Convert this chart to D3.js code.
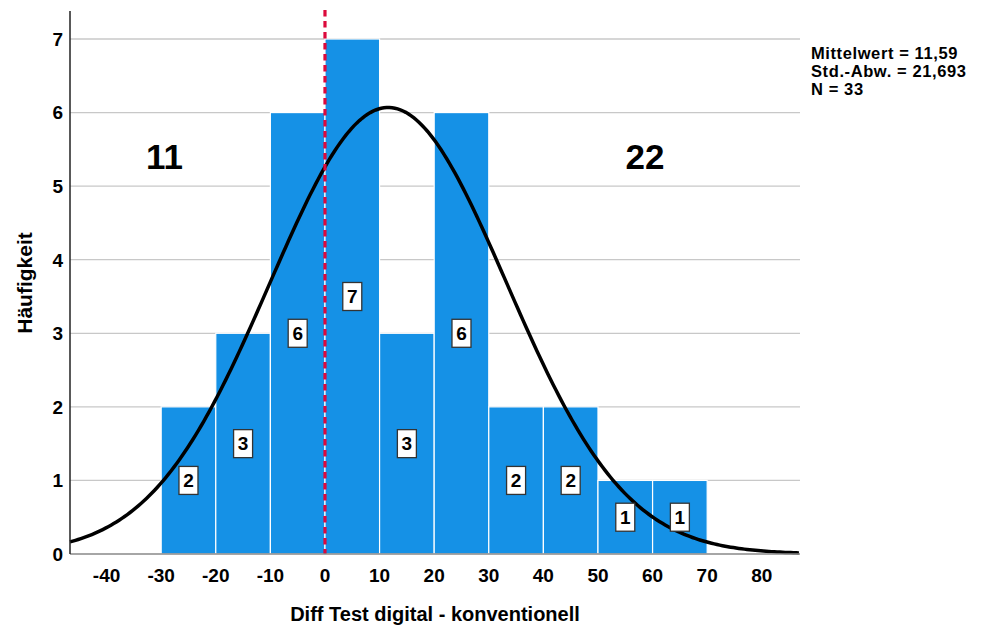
<!DOCTYPE html>
<html><head><meta charset="utf-8">
<script src="https://cdn.jsdelivr.net/npm/d3@7"></script>
<style>body{margin:0;background:#fff;}svg{display:block;font-family:Arial,"Liberation Sans",sans-serif;}</style>
</head><body>
<svg id="c" width="991" height="628"></svg>
<script>
const binStarts = [-30,-20,-10,0,10,20,30,40,50,60];
const binWidth = 10;
const counts = [2,3,6,7,3,6,2,2,1,1];
const xTicks = [-40,-30,-20,-10,0,10,20,30,40,50,60,70,80];
const yTicks = [0,1,2,3,4,5,6,7];
const meanVal = 11.59, sdVal = 21.693, nVal = 33;
const statsLines = ["Mittelwert = 11,59","Std.-Abw. = 21,693","N = 33"];
const sideCounts = [{x:-29.4,y:5.4,t:"11"},{x:58.6,y:5.4,t:"22"}];

const svg = d3.select("#c");
const x = d3.scaleLinear().domain([-46.7,87]).range([70,800]);
const y = d3.scaleLinear().domain([0,7]).range([554,39]);

// grid
svg.append("g").selectAll("line").data(yTicks.filter(d=>d>0)).join("line")
  .attr("x1",70).attr("x2",800).attr("y1",d=>y(d)).attr("y2",d=>y(d))
  .attr("stroke","#c8c8c8").attr("stroke-width",1.3);

// bars
svg.append("g").selectAll("rect").data(binStarts.map((s,i)=>({s,c:counts[i]}))).join("rect")
  .attr("x",d=>x(d.s)).attr("width",d=>x(d.s+binWidth)-x(d.s))
  .attr("y",d=>y(d.c)).attr("height",d=>y(0)-y(d.c))
  .attr("fill","#1591e6").attr("stroke","#ffffff").attr("stroke-width",1.2);

// normal curve
const pts = d3.range(-46.7,87.01,0.5).map(v=>[v, nVal*binWidth*Math.exp(-0.5*((v-meanVal)/sdVal)**2)/(sdVal*Math.sqrt(2*Math.PI))]);
svg.append("path").datum(pts)
  .attr("d",d3.line().x(d=>x(d[0])).y(d=>y(d[1])))
  .attr("fill","none").attr("stroke","#000").attr("stroke-width",3.5);

// red dashed line
svg.append("line").attr("x1",x(0)).attr("x2",x(0)).attr("y1",10).attr("y2",y(0))
  .attr("stroke","#dc0a3c").attr("stroke-width",3.2).attr("stroke-dasharray","6.5,4.5");

// labels in bars
const lg = svg.append("g").selectAll("g").data(binStarts.map((s,i)=>({s,c:counts[i]}))).join("g")
  .attr("transform",d=>`translate(${x(d.s+binWidth/2)},${y(d.c/2)})`);
lg.append("rect").attr("x",-9.5).attr("y",-14).attr("width",19).attr("height",28)
  .attr("fill","#fff").attr("stroke","#333").attr("stroke-width",1.3);
lg.append("text").attr("text-anchor","middle").attr("dy","0.36em")
  .attr("font-size",19).attr("font-weight","bold").text(d=>d.c);

// axes
svg.append("line").attr("x1",70).attr("x2",800).attr("y1",y(0)).attr("y2",y(0)).attr("stroke","#888").attr("stroke-width",1.5);
svg.append("line").attr("x1",70).attr("x2",70).attr("y1",11).attr("y2",y(0)).attr("stroke","#222").attr("stroke-width",1.5);

svg.append("g").selectAll("text").data(yTicks).join("text")
  .attr("x",63).attr("y",d=>y(d)).attr("dy","0.36em").attr("text-anchor","end")
  .attr("font-size",19).attr("font-weight","bold").text(d=>d);
svg.append("g").selectAll("text").data(xTicks).join("text")
  .attr("x",d=>x(d)).attr("y",582).attr("text-anchor","middle")
  .attr("font-size",19).attr("font-weight","bold").text(d=>d);

svg.append("text").attr("transform","translate(32,283) rotate(-90)").attr("text-anchor","middle")
  .attr("font-size",21).attr("font-weight","bold").text("Häufigkeit");
svg.append("text").attr("x",435).attr("y",621).attr("text-anchor","middle")
  .attr("font-size",20).attr("font-weight","bold").text("Diff Test digital - konventionell");

svg.append("g").selectAll("text").data(sideCounts).join("text")
  .attr("x",d=>x(d.x)).attr("y",d=>y(d.y)).attr("dy","0.36em").attr("text-anchor","middle")
  .attr("font-size",35).attr("font-weight","bold").text(d=>d.t);

svg.append("g").selectAll("text").data(statsLines).join("text")
  .attr("x",811).attr("y",(d,i)=>59+i*18)
  .attr("font-size",16.5).attr("font-weight","bold").attr("letter-spacing",0.6).text(d=>d);
</script>
</body></html>
